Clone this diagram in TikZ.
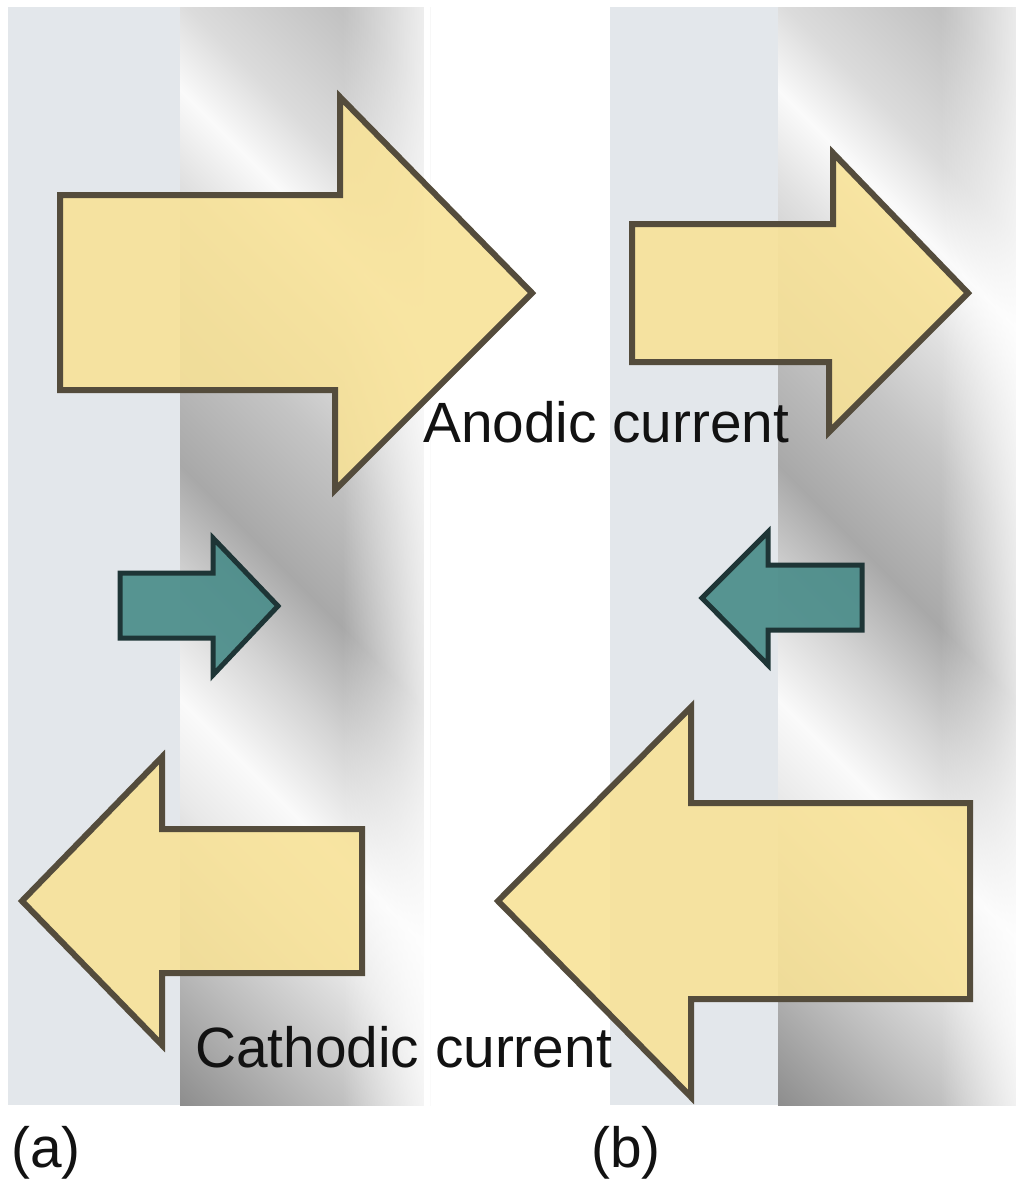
\documentclass[tikz,border=0pt]{standalone}
\usepackage{fontspec}
\setmainfont{Liberation Sans}
\usetikzlibrary{fadings}

\definecolor{stripblue}{HTML}{E3E7EB}
\definecolor{arrowyellow}{HTML}{F8E296}
\definecolor{yellowedge}{HTML}{544C3C}
\definecolor{arrowteal}{HTML}{4B8D8A}
\definecolor{tealedge}{HTML}{1E3536}

% brushed-metal bands, running diagonally across the electrode
\pgfdeclarehorizontalshading{metalbands}{100bp}{%
  rgb(0bp)=(0.52,0.52,0.52);
  rgb(25bp)=(0.52,0.52,0.52);
  rgb(26.72bp)=(0.56,0.56,0.56);
  rgb(31.90bp)=(0.74,0.74,0.74);
  rgb(37.07bp)=(0.91,0.91,0.91);
  rgb(40.52bp)=(0.98,0.98,0.98);
  rgb(44.66bp)=(0.83,0.83,0.83);
  rgb(48.62bp)=(0.66,0.66,0.66);
  rgb(54.31bp)=(0.77,0.77,0.77);
  rgb(58.45bp)=(0.88,0.88,0.88);
  rgb(61.55bp)=(0.98,0.98,0.98);
  rgb(64.66bp)=(0.86,0.86,0.86);
  rgb(69.83bp)=(0.76,0.76,0.76);
  rgb(75bp)=(0.73,0.73,0.73);
  rgb(100bp)=(0.73,0.73,0.73)}

% transparency ramp used to blend the metal into the paper
\tikzfading[name=towhite, left color=transparent!100, right color=transparent!0]

% metal electrode strip whose left edge is at x = #1
\newcommand{\metalsheet}[1]{%
  \begin{scope}
    \clip (#1,7) rectangle (#1+250,1105);
    \begin{scope}[transform canvas={rotate around={45:(#1+125,556)}}]
      \shade[shading=metalbands] (#1+125-508.4,556-900) rectangle (#1+125+516.9,556+900);
    \end{scope}
    \fill[white, path fading=towhite] (#1+162,0) rectangle (#1+272,1110);
    \fill[white] (#1+244,0) rectangle (#1+254,1110);
  \end{scope}}

\begin{document}
\begin{tikzpicture}[x=1pt,y=-1pt,
  solution/.style={fill=stripblue},
  bigarrow/.style={fill=arrowyellow, fill opacity=0.88, draw=yellowedge,
    line width=6pt, line join=miter},
  smallarrow/.style={fill=arrowteal, fill opacity=0.92, draw=tealedge,
    line width=5pt, line join=miter},
  lbl/.style={font=\fontsize{56.8}{60}\selectfont, inner sep=0pt, text=black!93}]

  \fill[white] (0,0) rectangle (1016,1184);
  \useasboundingbox (0,0) rectangle (1016,1184);

  % electrolyte side
  \fill[solution] (8,7) rectangle (180,1105);
  \fill[solution] (610,7) rectangle (778,1105);

  % metal side
  \metalsheet{180}
  \metalsheet{778}

  % (a) currents
  \draw[bigarrow] (60,195) -- (340,195) -- (340,97) -- (532,293)
    -- (335,490) -- (335,390) -- (60,390) -- cycle;
  \draw[smallarrow] (120,573) -- (213,573) -- (213,538) -- (278,606)
    -- (213,675) -- (213,638) -- (120,638) -- cycle;
  \draw[bigarrow] (362,829) -- (162,829) -- (162,757) -- (22,901)
    -- (162,1045) -- (162,973) -- (362,973) -- cycle;

  % (b) currents
  \draw[bigarrow] (632,224) -- (833,224) -- (833,153) -- (968,293)
    -- (829,432) -- (829,362) -- (632,362) -- cycle;
  \draw[smallarrow] (862,565) -- (768,565) -- (768,532) -- (702,598)
    -- (768,665) -- (768,630) -- (862,630) -- cycle;
  \draw[bigarrow] (970,803) -- (691,803) -- (691,707) -- (498,901)
    -- (691,1097) -- (691,999) -- (970,999) -- cycle;

  % labels
  \node[lbl, anchor=base west] (anodic) at (423,442) {Anodic current};
  \node[lbl, anchor=base west] (cathodic) at (195,1067) {Cathodic current};
  \node[lbl, anchor=base west] (tagA) at (11,1167) {(a)};
  \node[lbl, anchor=base west] (tagB) at (591,1167) {(b)};
\end{tikzpicture}
\end{document}
